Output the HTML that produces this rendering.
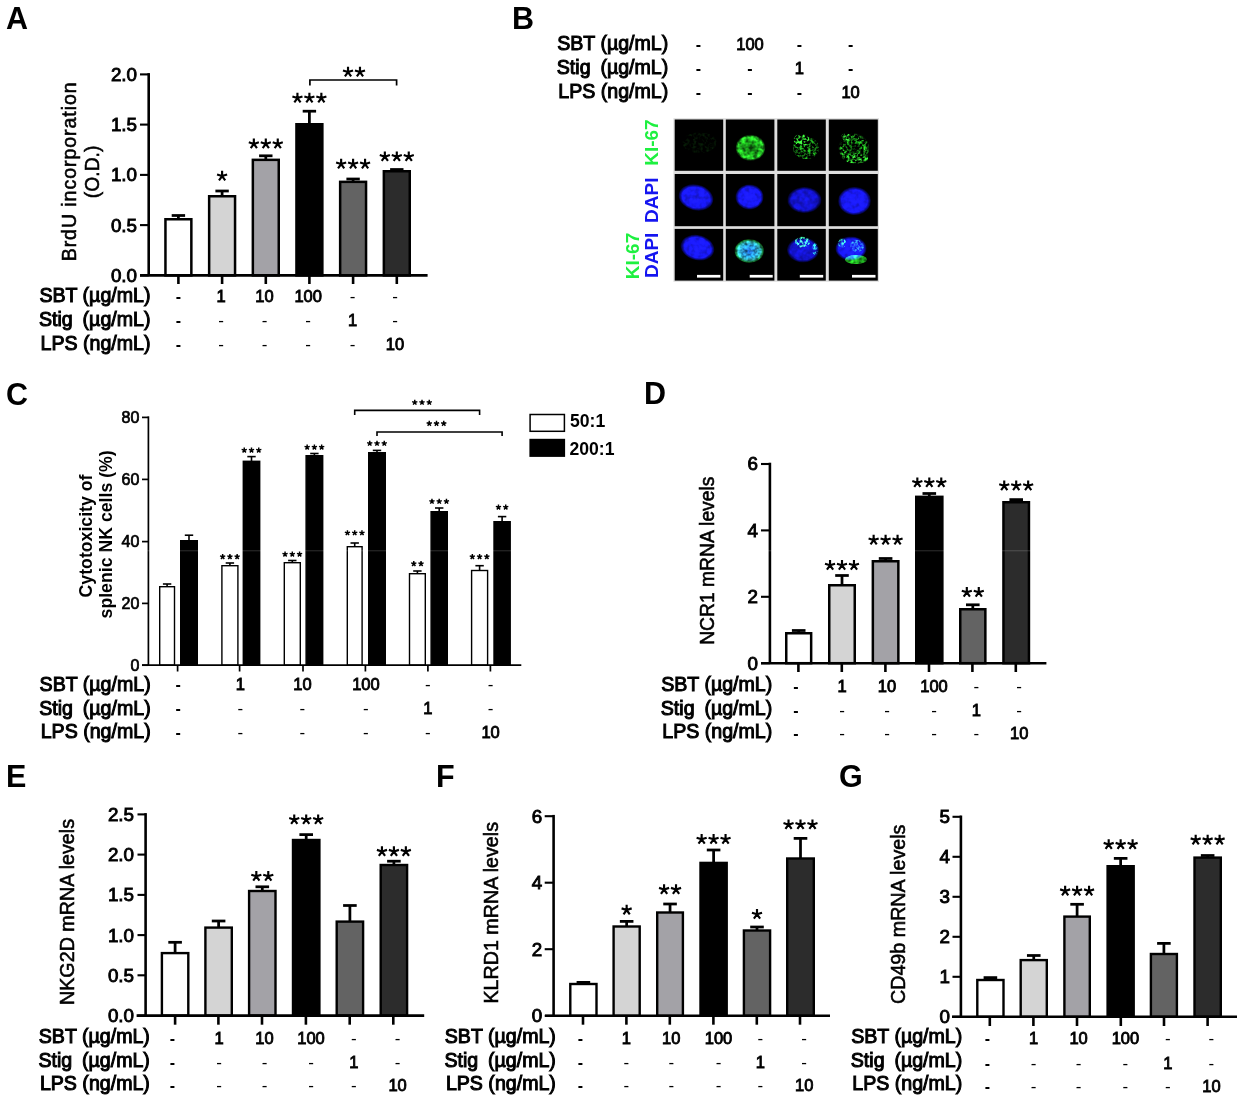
<!DOCTYPE html>
<html><head><meta charset="utf-8"><style>
html,body{margin:0;padding:0;background:#fff;}
svg{display:block;filter:blur(0.45px);font-family:"Liberation Sans", sans-serif;}
</style></head><body>
<svg width="1245" height="1103" viewBox="0 0 1245 1103">
<rect width="1245" height="1103" fill="#fff"/>
<text x="6" y="29" font-size="30.5" font-weight="bold" text-anchor="start" fill="#000">A</text>
<text x="512" y="29" font-size="30.5" font-weight="bold" text-anchor="start" fill="#000">B</text>
<text x="6" y="404.5" font-size="30.5" font-weight="bold" text-anchor="start" fill="#000">C</text>
<text x="644" y="403.5" font-size="30.5" font-weight="bold" text-anchor="start" fill="#000">D</text>
<text x="6" y="787" font-size="30.5" font-weight="bold" text-anchor="start" fill="#000">E</text>
<text x="436" y="787" font-size="30.5" font-weight="bold" text-anchor="start" fill="#000">F</text>
<text x="839" y="787" font-size="30.5" font-weight="bold" text-anchor="start" fill="#000">G</text>
<line x1="148.7" y1="73.1" x2="148.7" y2="275.4" stroke="#000" stroke-width="2.6" stroke-linecap="butt"/>
<line x1="140" y1="74.4" x2="148.7" y2="74.4" stroke="#000" stroke-width="2.1" stroke-linecap="butt"/>
<text x="137" y="80.89" font-size="18.8" stroke="#000" stroke-width="0.9" text-anchor="end" fill="#000">2.0</text>
<line x1="140" y1="124.6" x2="148.7" y2="124.6" stroke="#000" stroke-width="2.1" stroke-linecap="butt"/>
<text x="137" y="131.09" font-size="18.8" stroke="#000" stroke-width="0.9" text-anchor="end" fill="#000">1.5</text>
<line x1="140" y1="174.9" x2="148.7" y2="174.9" stroke="#000" stroke-width="2.1" stroke-linecap="butt"/>
<text x="137" y="181.39" font-size="18.8" stroke="#000" stroke-width="0.9" text-anchor="end" fill="#000">1.0</text>
<line x1="140" y1="225.1" x2="148.7" y2="225.1" stroke="#000" stroke-width="2.1" stroke-linecap="butt"/>
<text x="137" y="231.59" font-size="18.8" stroke="#000" stroke-width="0.9" text-anchor="end" fill="#000">0.5</text>
<line x1="140" y1="275.4" x2="148.7" y2="275.4" stroke="#000" stroke-width="2.1" stroke-linecap="butt"/>
<text x="137" y="281.89" font-size="18.8" stroke="#000" stroke-width="0.9" text-anchor="end" fill="#000">0.0</text>
<line x1="178.4" y1="219" x2="178.4" y2="215.5" stroke="#000" stroke-width="2.75" stroke-linecap="butt"/>
<line x1="171.7" y1="215.5" x2="185.1" y2="215.5" stroke="#000" stroke-width="2.75" stroke-linecap="butt"/>
<rect x="165.45" y="219.25" width="25.9" height="56.15" fill="#ffffff" stroke="#000" stroke-width="2.5"/>
<line x1="222.1" y1="196" x2="222.1" y2="191" stroke="#000" stroke-width="2.75" stroke-linecap="butt"/>
<line x1="215.4" y1="191" x2="228.8" y2="191" stroke="#000" stroke-width="2.75" stroke-linecap="butt"/>
<rect x="209.15" y="196.25" width="25.9" height="79.15" fill="#d4d4d4" stroke="#000" stroke-width="2.5"/>
<line x1="265.8" y1="159.6" x2="265.8" y2="155.8" stroke="#000" stroke-width="2.75" stroke-linecap="butt"/>
<line x1="259.1" y1="155.8" x2="272.5" y2="155.8" stroke="#000" stroke-width="2.75" stroke-linecap="butt"/>
<rect x="252.85" y="159.85" width="25.9" height="115.55" fill="#a3a2a7" stroke="#000" stroke-width="2.5"/>
<line x1="309.4" y1="124" x2="309.4" y2="111.2" stroke="#000" stroke-width="2.75" stroke-linecap="butt"/>
<line x1="302.7" y1="111.2" x2="316.1" y2="111.2" stroke="#000" stroke-width="2.75" stroke-linecap="butt"/>
<rect x="296.45" y="124.25" width="25.9" height="151.15" fill="#000000" stroke="#000" stroke-width="2.5"/>
<line x1="353.1" y1="181.6" x2="353.1" y2="179" stroke="#000" stroke-width="2.75" stroke-linecap="butt"/>
<line x1="346.4" y1="179" x2="359.8" y2="179" stroke="#000" stroke-width="2.75" stroke-linecap="butt"/>
<rect x="340.15" y="181.85" width="25.9" height="93.55" fill="#636363" stroke="#000" stroke-width="2.5"/>
<line x1="396.8" y1="171" x2="396.8" y2="169.5" stroke="#000" stroke-width="2.75" stroke-linecap="butt"/>
<line x1="390.1" y1="169.5" x2="403.5" y2="169.5" stroke="#000" stroke-width="2.75" stroke-linecap="butt"/>
<rect x="383.85" y="171.25" width="25.9" height="104.15" fill="#2c2c2c" stroke="#000" stroke-width="2.5"/>
<line x1="140" y1="275.4" x2="427.6" y2="275.4" stroke="#000" stroke-width="2.6" stroke-linecap="butt"/>
<line x1="178.4" y1="275.4" x2="178.4" y2="284" stroke="#000" stroke-width="2.6" stroke-linecap="butt"/>
<line x1="222.1" y1="275.4" x2="222.1" y2="284" stroke="#000" stroke-width="2.6" stroke-linecap="butt"/>
<line x1="265.8" y1="275.4" x2="265.8" y2="284" stroke="#000" stroke-width="2.6" stroke-linecap="butt"/>
<line x1="309.4" y1="275.4" x2="309.4" y2="284" stroke="#000" stroke-width="2.6" stroke-linecap="butt"/>
<line x1="353.1" y1="275.4" x2="353.1" y2="284" stroke="#000" stroke-width="2.6" stroke-linecap="butt"/>
<line x1="396.8" y1="275.4" x2="396.8" y2="284" stroke="#000" stroke-width="2.6" stroke-linecap="butt"/>
<path d="M222.1,176.1L222.1,170.8M222.1,176.1L227.14,174.47M222.1,176.1L225.22,180.39M222.1,176.1L218.98,180.39M222.1,176.1L217.06,174.47" stroke="#000" stroke-width="2.15" fill="none"/>
<path d="M253.84,143.9L253.84,138.6M253.84,143.9L258.88,142.27M253.84,143.9L256.96,148.19M253.84,143.9L250.73,148.19M253.84,143.9L248.8,142.27M265.8,143.9L265.8,138.6M265.8,143.9L270.84,142.27M265.8,143.9L268.92,148.19M265.8,143.9L262.68,148.19M265.8,143.9L260.76,142.27M277.76,143.9L277.76,138.6M277.76,143.9L282.8,142.27M277.76,143.9L280.87,148.19M277.76,143.9L274.64,148.19M277.76,143.9L272.72,142.27" stroke="#000" stroke-width="2.15" fill="none"/>
<path d="M297.44,98.1L297.44,92.8M297.44,98.1L302.48,96.47M297.44,98.1L300.56,102.39M297.44,98.1L294.33,102.39M297.44,98.1L292.4,96.47M309.4,98.1L309.4,92.8M309.4,98.1L314.44,96.47M309.4,98.1L312.52,102.39M309.4,98.1L306.28,102.39M309.4,98.1L304.36,96.47M321.36,98.1L321.36,92.8M321.36,98.1L326.4,96.47M321.36,98.1L324.47,102.39M321.36,98.1L318.24,102.39M321.36,98.1L316.32,96.47" stroke="#000" stroke-width="2.15" fill="none"/>
<path d="M341.14,164.1L341.14,158.8M341.14,164.1L346.18,162.47M341.14,164.1L344.26,168.39M341.14,164.1L338.03,168.39M341.14,164.1L336.1,162.47M353.1,164.1L353.1,158.8M353.1,164.1L358.14,162.47M353.1,164.1L356.22,168.39M353.1,164.1L349.98,168.39M353.1,164.1L348.06,162.47M365.06,164.1L365.06,158.8M365.06,164.1L370.1,162.47M365.06,164.1L368.17,168.39M365.06,164.1L361.94,168.39M365.06,164.1L360.02,162.47" stroke="#000" stroke-width="2.15" fill="none"/>
<path d="M384.84,156.7L384.84,151.4M384.84,156.7L389.88,155.07M384.84,156.7L387.96,160.99M384.84,156.7L381.73,160.99M384.84,156.7L379.8,155.07M396.8,156.7L396.8,151.4M396.8,156.7L401.84,155.07M396.8,156.7L399.92,160.99M396.8,156.7L393.68,160.99M396.8,156.7L391.76,155.07M408.76,156.7L408.76,151.4M408.76,156.7L413.8,155.07M408.76,156.7L411.87,160.99M408.76,156.7L405.64,160.99M408.76,156.7L403.72,155.07" stroke="#000" stroke-width="2.15" fill="none"/>
<path d="M309.9,85.5 V80 H396.6 V85.5" stroke="#000" stroke-width="1.7" fill="none"/>
<path d="M348.02,72.1L348.02,66.8M348.02,72.1L353.06,70.47M348.02,72.1L351.14,76.39M348.02,72.1L344.91,76.39M348.02,72.1L342.98,70.47M359.98,72.1L359.98,66.8M359.98,72.1L365.02,70.47M359.98,72.1L363.09,76.39M359.98,72.1L356.86,76.39M359.98,72.1L354.94,70.47" stroke="#000" stroke-width="2.15" fill="none"/>
<text transform="translate(76.3,171.4) rotate(-90)" font-size="19.6" stroke="#000" stroke-width="0.55" text-anchor="middle" fill="#000" letter-spacing="0.92">BrdU incorporation</text>
<text transform="translate(99.2,171.9) rotate(-90)" font-size="19.3" stroke="#000" stroke-width="0.55" text-anchor="middle" fill="#000">(O.D.)</text>
<text x="150.5" y="302.4" font-size="19.6" stroke="#000" stroke-width="1" text-anchor="end">SBT (µg/mL)</text>
<text x="178.4" y="301.8" font-size="16" font-weight="bold" text-anchor="middle" fill="#000">-</text>
<text x="221" y="301.8" font-size="16.5" stroke="#000" stroke-width="0.85" text-anchor="middle" fill="#000">1</text>
<text x="264.5" y="301.8" font-size="16.5" stroke="#000" stroke-width="0.85" text-anchor="middle" fill="#000">10</text>
<text x="308.2" y="301.8" font-size="16.5" stroke="#000" stroke-width="0.85" text-anchor="middle" fill="#000">100</text>
<text x="352.5" y="301.8" font-size="17" text-anchor="middle" fill="#000">-</text>
<text x="395" y="301.8" font-size="17" text-anchor="middle" fill="#000">-</text>
<text x="150.5" y="326.3" font-size="19.6" stroke="#000" stroke-width="1" text-anchor="end">Stig<tspan dx="4.4"> (µg/mL)</tspan></text>
<text x="178.4" y="325.5" font-size="16" font-weight="bold" text-anchor="middle" fill="#000">-</text>
<text x="221" y="325.5" font-size="17" text-anchor="middle" fill="#000">-</text>
<text x="264.5" y="325.5" font-size="17" text-anchor="middle" fill="#000">-</text>
<text x="308.2" y="325.5" font-size="17" text-anchor="middle" fill="#000">-</text>
<text x="352.5" y="325.5" font-size="16.5" stroke="#000" stroke-width="0.85" text-anchor="middle" fill="#000">1</text>
<text x="395" y="325.5" font-size="17" text-anchor="middle" fill="#000">-</text>
<text x="150.5" y="349.5" font-size="19.6" stroke="#000" stroke-width="1" text-anchor="end">LPS (ng/mL)</text>
<text x="178.4" y="349.6" font-size="16" font-weight="bold" text-anchor="middle" fill="#000">-</text>
<text x="221" y="349.6" font-size="17" text-anchor="middle" fill="#000">-</text>
<text x="264.5" y="349.6" font-size="17" text-anchor="middle" fill="#000">-</text>
<text x="308.2" y="349.6" font-size="17" text-anchor="middle" fill="#000">-</text>
<text x="352.5" y="349.6" font-size="17" text-anchor="middle" fill="#000">-</text>
<text x="395" y="349.6" font-size="16.5" stroke="#000" stroke-width="0.85" text-anchor="middle" fill="#000">10</text>
<text x="668.3" y="49.6" font-size="19.6" stroke="#000" stroke-width="1" text-anchor="end">SBT (µg/mL)</text>
<text x="698.3" y="49.7" font-size="16" font-weight="bold" text-anchor="middle" fill="#000">-</text>
<text x="750" y="49.7" font-size="16.5" stroke="#000" stroke-width="0.85" text-anchor="middle" fill="#000">100</text>
<text x="799.3" y="49.7" font-size="16" font-weight="bold" text-anchor="middle" fill="#000">-</text>
<text x="850.6" y="49.7" font-size="16" font-weight="bold" text-anchor="middle" fill="#000">-</text>
<text x="668.3" y="74.4" font-size="19.6" stroke="#000" stroke-width="1" text-anchor="end">Stig<tspan dx="4.4"> (µg/mL)</tspan></text>
<text x="698.3" y="73.6" font-size="16" font-weight="bold" text-anchor="middle" fill="#000">-</text>
<text x="750" y="73.6" font-size="16" font-weight="bold" text-anchor="middle" fill="#000">-</text>
<text x="799.3" y="73.6" font-size="16.5" stroke="#000" stroke-width="0.85" text-anchor="middle" fill="#000">1</text>
<text x="850.6" y="73.6" font-size="16" font-weight="bold" text-anchor="middle" fill="#000">-</text>
<text x="668.3" y="97.8" font-size="19.6" stroke="#000" stroke-width="1" text-anchor="end">LPS (ng/mL)</text>
<text x="698.3" y="98.3" font-size="16" font-weight="bold" text-anchor="middle" fill="#000">-</text>
<text x="750" y="98.3" font-size="16" font-weight="bold" text-anchor="middle" fill="#000">-</text>
<text x="799.3" y="98.3" font-size="16" font-weight="bold" text-anchor="middle" fill="#000">-</text>
<text x="850.6" y="98.3" font-size="16.5" stroke="#000" stroke-width="0.85" text-anchor="middle" fill="#000">10</text>
<rect x="673.4" y="118.2" width="205.6" height="163.6" fill="#dedede"/>
<rect x="674.7" y="119.5" width="48.5" height="51.3" fill="#000"/>
<rect x="674.7" y="174" width="48.5" height="52.2" fill="#000"/>
<rect x="674.7" y="228.9" width="48.5" height="51.7" fill="#000"/>
<rect x="725.8" y="119.5" width="48.6" height="51.3" fill="#000"/>
<rect x="725.8" y="174" width="48.6" height="52.2" fill="#000"/>
<rect x="725.8" y="228.9" width="48.6" height="51.7" fill="#000"/>
<rect x="777.3" y="119.5" width="48.5" height="51.3" fill="#000"/>
<rect x="777.3" y="174" width="48.5" height="52.2" fill="#000"/>
<rect x="777.3" y="228.9" width="48.5" height="51.7" fill="#000"/>
<rect x="828.8" y="119.5" width="49" height="51.3" fill="#000"/>
<rect x="828.8" y="174" width="49" height="52.2" fill="#000"/>
<rect x="828.8" y="228.9" width="49" height="51.7" fill="#000"/>

<defs>
<filter id="tx1" x="-20%" y="-20%" width="140%" height="140%" color-interpolation-filters="sRGB">
<feTurbulence type="fractalNoise" baseFrequency="0.24" numOctaves="2" seed="4" result="n"/>
<feColorMatrix in="n" type="matrix" values="0 1.8 0 0 -0.45  0 1.8 0 0 -0.45  0 1.8 0 0 -0.45  0 0 0 0 1" result="gg"/>
<feComposite in="SourceGraphic" in2="gg" operator="arithmetic" k1="1.0" k2="0.45" k3="0" k4="0" result="c"/>
<feGaussianBlur in="c" stdDeviation="0.45"/>
</filter>
<filter id="tx2" x="-20%" y="-20%" width="140%" height="140%" color-interpolation-filters="sRGB">
<feTurbulence type="fractalNoise" baseFrequency="0.36" numOctaves="2" seed="11" result="n"/>
<feColorMatrix in="n" type="matrix" values="0 3 0 0 -1.2  0 3 0 0 -1.2  0 3 0 0 -1.2  0 0 0 0 1" result="gg"/>
<feComposite in="SourceGraphic" in2="gg" operator="arithmetic" k1="1.3" k2="0.0" k3="0" k4="0" result="c"/>
<feGaussianBlur in="c" stdDeviation="0.45"/>
</filter>
<filter id="tx3" x="-20%" y="-20%" width="140%" height="140%" color-interpolation-filters="sRGB">
<feTurbulence type="fractalNoise" baseFrequency="0.2" numOctaves="2" seed="7" result="n"/>
<feColorMatrix in="n" type="matrix" values="0 0.7 0 0 0.5  0 0.7 0 0 0.5  0 0.7 0 0 0.5  0 0 0 0 1" result="gg"/>
<feComposite in="SourceGraphic" in2="gg" operator="arithmetic" k1="1.0" k2="0.15" k3="0" k4="0" result="c"/>
<feGaussianBlur in="c" stdDeviation="0.6"/>
</filter>
<filter id="tx4" x="-20%" y="-20%" width="140%" height="140%" color-interpolation-filters="sRGB">
<feTurbulence type="fractalNoise" baseFrequency="0.3" numOctaves="2" seed="21" result="n"/>
<feColorMatrix in="n" type="matrix" values="0 2.6 0 0 -1.15  0 2.6 0 0 -1.15  0 2.6 0 0 -1.15  0 0 0 0 1" result="gg"/>
<feComposite in="SourceGraphic" in2="gg" operator="arithmetic" k1="1.0" k2="0" k3="0" k4="0" result="c"/>
<feGaussianBlur in="c" stdDeviation="0.3"/>
</filter>
<radialGradient id="gring"><stop offset="0" stop-color="#148014"/><stop offset="0.5" stop-color="#1ca81c"/><stop offset="0.85" stop-color="#2ee82e"/><stop offset="1" stop-color="#20a020" stop-opacity="0.3"/></radialGradient>
<radialGradient id="gring2"><stop offset="0" stop-color="#0a4a0a"/><stop offset="0.45" stop-color="#168a16"/><stop offset="0.8" stop-color="#2ad02a"/><stop offset="1" stop-color="#20a020" stop-opacity="0.3"/></radialGradient>
<radialGradient id="gb"><stop offset="0" stop-color="#1c1cff"/><stop offset="0.8" stop-color="#1818f8"/><stop offset="1" stop-color="#0c0cc0" stop-opacity="0.25"/></radialGradient>
<radialGradient id="gbd"><stop offset="0" stop-color="#1616dc"/><stop offset="0.8" stop-color="#1212cc"/><stop offset="1" stop-color="#0808a0" stop-opacity="0.2"/></radialGradient>
<radialGradient id="gc"><stop offset="0" stop-color="#2070f4"/><stop offset="0.5" stop-color="#28a8f4"/><stop offset="0.8" stop-color="#38d0d0"/><stop offset="1" stop-color="#20c030" stop-opacity="0.5"/></radialGradient>
</defs>
<g filter="url(#tx4)" opacity="0.3"><ellipse cx="699.6" cy="142.7" rx="17" ry="10.5" fill="#1a6a1a"/></g>
<g filter="url(#tx1)"><ellipse cx="750.5" cy="147.7" rx="14.7" ry="13" fill="url(#gring)"/></g>
<g filter="url(#tx2)">
<ellipse cx="806" cy="148" rx="13" ry="11" fill="#1c9c1c"/>
<ellipse cx="801.5" cy="140" rx="8" ry="6" fill="#38f038"/>
</g>
<g filter="url(#tx2)">
<ellipse cx="854" cy="148.6" rx="15.5" ry="15" fill="url(#gring2)"/>
<ellipse cx="856" cy="158.5" rx="12" ry="5" fill="#34e034"/>
<ellipse cx="846" cy="137" rx="5" ry="3.5" fill="#34e034"/>
</g>
<g filter="url(#tx3)">
<ellipse cx="696" cy="197.5" rx="17.5" ry="12.8" fill="url(#gb)" transform="rotate(14 696 197.5)"/>
<ellipse cx="749.5" cy="197" rx="14" ry="12.5" fill="url(#gb)"/>
<ellipse cx="854.5" cy="201" rx="16.3" ry="14" fill="url(#gb)"/>
<ellipse cx="697.5" cy="247.7" rx="17" ry="12.5" fill="url(#gb)" transform="rotate(14 697.5 247.7)"/>
<ellipse cx="804.4" cy="200" rx="17" ry="13" fill="url(#gbd)"/>
</g>
<g filter="url(#tx1)">
<ellipse cx="749.3" cy="251" rx="14.6" ry="11.7" fill="url(#gc)"/>
</g>
<g filter="url(#tx3)">
<ellipse cx="803" cy="250" rx="16" ry="12.5" fill="url(#gbd)"/>
<ellipse cx="851" cy="248.5" rx="15.5" ry="12" fill="url(#gb)"/>
</g>
<g filter="url(#tx1)" style="mix-blend-mode:screen">
<ellipse cx="856" cy="259.5" rx="11" ry="4.6" fill="#24c024"/>
</g>
<g filter="url(#tx2)" style="mix-blend-mode:screen">
<ellipse cx="802.5" cy="242" rx="7.5" ry="5.5" fill="#40ffa0"/>
<ellipse cx="842" cy="243" rx="4" ry="4.5" fill="#30e0c0"/>
<ellipse cx="815" cy="249" rx="3" ry="6" fill="#20c0c0"/>
<ellipse cx="857" cy="246" rx="7" ry="6" fill="#2090d0"/>
<ellipse cx="750" cy="251" rx="11" ry="9" fill="#103030"/>
</g>

<rect x="697" y="274.9" width="23.4" height="2.7" fill="#fff"/>
<rect x="749.7" y="274.9" width="23" height="2.7" fill="#fff"/>
<rect x="799.8" y="274.9" width="23.4" height="2.7" fill="#fff"/>
<rect x="852" y="274.9" width="23.5" height="2.7" fill="#fff"/>
<text transform="translate(658.2,142.6) rotate(-90)" font-size="19" font-weight="bold" text-anchor="middle" fill="#1ef040">KI-67</text>
<text transform="translate(658.2,200.2) rotate(-90)" font-size="19" font-weight="bold" text-anchor="middle" fill="#1515f0">DAPI</text>
<text transform="translate(639.4,256) rotate(-90)" font-size="19" font-weight="bold" text-anchor="middle" fill="#1ef040">KI-67</text>
<text transform="translate(658.2,255.3) rotate(-90)" font-size="19" font-weight="bold" text-anchor="middle" fill="#1515f0">DAPI</text>
<line x1="148.4" y1="416.35" x2="148.4" y2="665.2" stroke="#000" stroke-width="1.7" stroke-linecap="butt"/>
<line x1="142" y1="417.4" x2="148.4" y2="417.4" stroke="#000" stroke-width="1.7" stroke-linecap="butt"/>
<text x="139.4" y="422.92" font-size="16" stroke="#000" stroke-width="0.7" text-anchor="end" fill="#000">80</text>
<line x1="142" y1="479.4" x2="148.4" y2="479.4" stroke="#000" stroke-width="1.7" stroke-linecap="butt"/>
<text x="139.4" y="484.92" font-size="16" stroke="#000" stroke-width="0.7" text-anchor="end" fill="#000">60</text>
<line x1="142" y1="541.6" x2="148.4" y2="541.6" stroke="#000" stroke-width="1.7" stroke-linecap="butt"/>
<text x="139.4" y="547.12" font-size="16" stroke="#000" stroke-width="0.7" text-anchor="end" fill="#000">40</text>
<line x1="142" y1="603.4" x2="148.4" y2="603.4" stroke="#000" stroke-width="1.7" stroke-linecap="butt"/>
<text x="139.4" y="608.92" font-size="16" stroke="#000" stroke-width="0.7" text-anchor="end" fill="#000">20</text>
<line x1="142" y1="665.2" x2="148.4" y2="665.2" stroke="#000" stroke-width="1.7" stroke-linecap="butt"/>
<text x="139.4" y="670.72" font-size="16" stroke="#000" stroke-width="0.7" text-anchor="end" fill="#000">0</text>
<line x1="167.1" y1="587" x2="167.1" y2="584" stroke="#000" stroke-width="1.6" stroke-linecap="butt"/>
<line x1="162.9" y1="584" x2="171.3" y2="584" stroke="#000" stroke-width="1.6" stroke-linecap="butt"/>
<rect x="159.7" y="586.7" width="14.8" height="78.5" fill="#fff" stroke="#000" stroke-width="1.4"/>
<line x1="229.9" y1="566" x2="229.9" y2="563" stroke="#000" stroke-width="1.6" stroke-linecap="butt"/>
<line x1="225.7" y1="563" x2="234.1" y2="563" stroke="#000" stroke-width="1.6" stroke-linecap="butt"/>
<rect x="221.9" y="565.7" width="16" height="99.5" fill="#fff" stroke="#000" stroke-width="1.4"/>
<line x1="292.3" y1="563" x2="292.3" y2="560.5" stroke="#000" stroke-width="1.6" stroke-linecap="butt"/>
<line x1="288.1" y1="560.5" x2="296.5" y2="560.5" stroke="#000" stroke-width="1.6" stroke-linecap="butt"/>
<rect x="284.3" y="562.7" width="16" height="102.5" fill="#fff" stroke="#000" stroke-width="1.4"/>
<line x1="354.7" y1="547" x2="354.7" y2="543" stroke="#000" stroke-width="1.6" stroke-linecap="butt"/>
<line x1="350.5" y1="543" x2="358.9" y2="543" stroke="#000" stroke-width="1.6" stroke-linecap="butt"/>
<rect x="347.3" y="546.7" width="14.8" height="118.5" fill="#fff" stroke="#000" stroke-width="1.4"/>
<line x1="417.4" y1="574" x2="417.4" y2="571" stroke="#000" stroke-width="1.6" stroke-linecap="butt"/>
<line x1="413.2" y1="571" x2="421.6" y2="571" stroke="#000" stroke-width="1.6" stroke-linecap="butt"/>
<rect x="409.5" y="573.7" width="15.8" height="91.5" fill="#fff" stroke="#000" stroke-width="1.4"/>
<line x1="479.6" y1="570.8" x2="479.6" y2="565.7" stroke="#000" stroke-width="1.6" stroke-linecap="butt"/>
<line x1="475.4" y1="565.7" x2="483.8" y2="565.7" stroke="#000" stroke-width="1.6" stroke-linecap="butt"/>
<rect x="471.6" y="570.5" width="16" height="94.7" fill="#fff" stroke="#000" stroke-width="1.4"/>
<line x1="189" y1="541" x2="189" y2="535.2" stroke="#000" stroke-width="1.6" stroke-linecap="butt"/>
<line x1="184.8" y1="535.2" x2="193.2" y2="535.2" stroke="#000" stroke-width="1.6" stroke-linecap="butt"/>
<rect x="180.7" y="540.7" width="16.6" height="124.5" fill="#000" stroke="#000" stroke-width="1.4"/>
<line x1="251.5" y1="461.6" x2="251.5" y2="456.6" stroke="#000" stroke-width="1.6" stroke-linecap="butt"/>
<line x1="247.3" y1="456.6" x2="255.7" y2="456.6" stroke="#000" stroke-width="1.6" stroke-linecap="butt"/>
<rect x="243.3" y="461.3" width="16.4" height="203.9" fill="#000" stroke="#000" stroke-width="1.4"/>
<line x1="314.4" y1="456" x2="314.4" y2="453.5" stroke="#000" stroke-width="1.6" stroke-linecap="butt"/>
<line x1="310.2" y1="453.5" x2="318.6" y2="453.5" stroke="#000" stroke-width="1.6" stroke-linecap="butt"/>
<rect x="306.1" y="455.7" width="16.6" height="209.5" fill="#000" stroke="#000" stroke-width="1.4"/>
<line x1="377" y1="453" x2="377" y2="450.4" stroke="#000" stroke-width="1.6" stroke-linecap="butt"/>
<line x1="372.8" y1="450.4" x2="381.2" y2="450.4" stroke="#000" stroke-width="1.6" stroke-linecap="butt"/>
<rect x="368.7" y="452.7" width="16.6" height="212.5" fill="#000" stroke="#000" stroke-width="1.4"/>
<line x1="439.2" y1="512" x2="439.2" y2="508" stroke="#000" stroke-width="1.6" stroke-linecap="butt"/>
<line x1="435" y1="508" x2="443.4" y2="508" stroke="#000" stroke-width="1.6" stroke-linecap="butt"/>
<rect x="431.1" y="511.7" width="16.2" height="153.5" fill="#000" stroke="#000" stroke-width="1.4"/>
<line x1="502.1" y1="522" x2="502.1" y2="516.6" stroke="#000" stroke-width="1.6" stroke-linecap="butt"/>
<line x1="497.9" y1="516.6" x2="506.3" y2="516.6" stroke="#000" stroke-width="1.6" stroke-linecap="butt"/>
<rect x="494" y="521.7" width="16.2" height="143.5" fill="#000" stroke="#000" stroke-width="1.4"/>
<line x1="142" y1="665.2" x2="521.3" y2="665.2" stroke="#000" stroke-width="1.7" stroke-linecap="butt"/>
<line x1="177.6" y1="665.2" x2="177.6" y2="671.5" stroke="#000" stroke-width="1.7" stroke-linecap="butt"/>
<line x1="239.6" y1="665.2" x2="239.6" y2="671.5" stroke="#000" stroke-width="1.7" stroke-linecap="butt"/>
<line x1="303" y1="665.2" x2="303" y2="671.5" stroke="#000" stroke-width="1.7" stroke-linecap="butt"/>
<line x1="365.4" y1="665.2" x2="365.4" y2="671.5" stroke="#000" stroke-width="1.7" stroke-linecap="butt"/>
<line x1="427.9" y1="665.2" x2="427.9" y2="671.5" stroke="#000" stroke-width="1.7" stroke-linecap="butt"/>
<line x1="490.4" y1="665.2" x2="490.4" y2="671.5" stroke="#000" stroke-width="1.7" stroke-linecap="butt"/>
<path d="M222.65,556.76L222.65,554.01M222.65,556.76L225.26,555.91M222.65,556.76L224.26,558.99M222.65,556.76L221.03,558.99M222.65,556.76L220.03,555.91M229.9,556.76L229.9,554.01M229.9,556.76L232.52,555.91M229.9,556.76L231.52,558.99M229.9,556.76L228.28,558.99M229.9,556.76L227.28,555.91M237.15,556.76L237.15,554.01M237.15,556.76L239.77,555.91M237.15,556.76L238.77,558.99M237.15,556.76L235.54,558.99M237.15,556.76L234.54,555.91" stroke="#000" stroke-width="1.45" fill="none"/>
<path d="M285.05,554.26L285.05,551.51M285.05,554.26L287.66,553.41M285.05,554.26L286.66,556.49M285.05,554.26L283.43,556.49M285.05,554.26L282.43,553.41M292.3,554.26L292.3,551.51M292.3,554.26L294.92,553.41M292.3,554.26L293.92,556.49M292.3,554.26L290.68,556.49M292.3,554.26L289.68,553.41M299.55,554.26L299.55,551.51M299.55,554.26L302.17,553.41M299.55,554.26L301.17,556.49M299.55,554.26L297.94,556.49M299.55,554.26L296.94,553.41" stroke="#000" stroke-width="1.45" fill="none"/>
<path d="M347.45,532.96L347.45,530.21M347.45,532.96L350.06,532.11M347.45,532.96L349.06,535.19M347.45,532.96L345.83,535.19M347.45,532.96L344.83,532.11M354.7,532.96L354.7,530.21M354.7,532.96L357.32,532.11M354.7,532.96L356.32,535.19M354.7,532.96L353.08,535.19M354.7,532.96L352.08,532.11M361.95,532.96L361.95,530.21M361.95,532.96L364.57,532.11M361.95,532.96L363.57,535.19M361.95,532.96L360.34,535.19M361.95,532.96L359.34,532.11" stroke="#000" stroke-width="1.45" fill="none"/>
<path d="M413.77,563.76L413.77,561.01M413.77,563.76L416.39,562.91M413.77,563.76L415.39,565.99M413.77,563.76L412.16,565.99M413.77,563.76L411.16,562.91M421.03,563.76L421.03,561.01M421.03,563.76L423.64,562.91M421.03,563.76L422.64,565.99M421.03,563.76L419.41,565.99M421.03,563.76L418.41,562.91" stroke="#000" stroke-width="1.45" fill="none"/>
<path d="M472.35,556.76L472.35,554.01M472.35,556.76L474.96,555.91M472.35,556.76L473.96,558.99M472.35,556.76L470.73,558.99M472.35,556.76L469.73,555.91M479.6,556.76L479.6,554.01M479.6,556.76L482.22,555.91M479.6,556.76L481.22,558.99M479.6,556.76L477.98,558.99M479.6,556.76L476.98,555.91M486.85,556.76L486.85,554.01M486.85,556.76L489.47,555.91M486.85,556.76L488.47,558.99M486.85,556.76L485.24,558.99M486.85,556.76L484.24,555.91" stroke="#000" stroke-width="1.45" fill="none"/>
<path d="M244.25,450.26L244.25,447.51M244.25,450.26L246.86,449.41M244.25,450.26L245.86,452.49M244.25,450.26L242.63,452.49M244.25,450.26L241.63,449.41M251.5,450.26L251.5,447.51M251.5,450.26L254.12,449.41M251.5,450.26L253.12,452.49M251.5,450.26L249.88,452.49M251.5,450.26L248.88,449.41M258.75,450.26L258.75,447.51M258.75,450.26L261.37,449.41M258.75,450.26L260.37,452.49M258.75,450.26L257.14,452.49M258.75,450.26L256.14,449.41" stroke="#000" stroke-width="1.45" fill="none"/>
<path d="M307.15,447.26L307.15,444.51M307.15,447.26L309.76,446.41M307.15,447.26L308.76,449.49M307.15,447.26L305.53,449.49M307.15,447.26L304.53,446.41M314.4,447.26L314.4,444.51M314.4,447.26L317.02,446.41M314.4,447.26L316.02,449.49M314.4,447.26L312.78,449.49M314.4,447.26L311.78,446.41M321.65,447.26L321.65,444.51M321.65,447.26L324.27,446.41M321.65,447.26L323.27,449.49M321.65,447.26L320.04,449.49M321.65,447.26L319.04,446.41" stroke="#000" stroke-width="1.45" fill="none"/>
<path d="M369.75,443.46L369.75,440.71M369.75,443.46L372.36,442.61M369.75,443.46L371.36,445.69M369.75,443.46L368.13,445.69M369.75,443.46L367.13,442.61M377,443.46L377,440.71M377,443.46L379.62,442.61M377,443.46L378.62,445.69M377,443.46L375.38,445.69M377,443.46L374.38,442.61M384.25,443.46L384.25,440.71M384.25,443.46L386.87,442.61M384.25,443.46L385.87,445.69M384.25,443.46L382.64,445.69M384.25,443.46L381.64,442.61" stroke="#000" stroke-width="1.45" fill="none"/>
<path d="M431.95,501.46L431.95,498.71M431.95,501.46L434.56,500.61M431.95,501.46L433.56,503.69M431.95,501.46L430.33,503.69M431.95,501.46L429.33,500.61M439.2,501.46L439.2,498.71M439.2,501.46L441.82,500.61M439.2,501.46L440.82,503.69M439.2,501.46L437.58,503.69M439.2,501.46L436.58,500.61M446.45,501.46L446.45,498.71M446.45,501.46L449.07,500.61M446.45,501.46L448.07,503.69M446.45,501.46L444.84,503.69M446.45,501.46L443.84,500.61" stroke="#000" stroke-width="1.45" fill="none"/>
<path d="M498.47,507.26L498.47,504.51M498.47,507.26L501.09,506.41M498.47,507.26L500.09,509.49M498.47,507.26L496.86,509.49M498.47,507.26L495.86,506.41M505.73,507.26L505.73,504.51M505.73,507.26L508.34,506.41M505.73,507.26L507.34,509.49M505.73,507.26L504.11,509.49M505.73,507.26L503.11,506.41" stroke="#000" stroke-width="1.45" fill="none"/>
<path d="M354.7,415 V410.4 H479.6 V415" stroke="#000" stroke-width="1.6" fill="none"/>
<path d="M414.75,402.46L414.75,399.71M414.75,402.46L417.36,401.61M414.75,402.46L416.36,404.69M414.75,402.46L413.13,404.69M414.75,402.46L412.13,401.61M422,402.46L422,399.71M422,402.46L424.62,401.61M422,402.46L423.62,404.69M422,402.46L420.38,404.69M422,402.46L419.38,401.61M429.25,402.46L429.25,399.71M429.25,402.46L431.87,401.61M429.25,402.46L430.87,404.69M429.25,402.46L427.64,404.69M429.25,402.46L426.64,401.61" stroke="#000" stroke-width="1.45" fill="none"/>
<path d="M377,436 V432 H502.1 V436" stroke="#000" stroke-width="1.6" fill="none"/>
<path d="M429.25,423.56L429.25,420.81M429.25,423.56L431.86,422.71M429.25,423.56L430.86,425.79M429.25,423.56L427.63,425.79M429.25,423.56L426.63,422.71M436.5,423.56L436.5,420.81M436.5,423.56L439.12,422.71M436.5,423.56L438.12,425.79M436.5,423.56L434.88,425.79M436.5,423.56L433.88,422.71M443.75,423.56L443.75,420.81M443.75,423.56L446.37,422.71M443.75,423.56L445.37,425.79M443.75,423.56L442.14,425.79M443.75,423.56L441.14,422.71" stroke="#000" stroke-width="1.45" fill="none"/>
<rect x="530.1" y="414.5" width="34.3" height="16.8" fill="#fff" stroke="#000" stroke-width="1.5"/>
<rect x="529.4" y="438.8" width="35.7" height="18.1" fill="#000"/>
<text x="570" y="426.7" font-size="17.6" font-weight="bold" text-anchor="start" fill="#000">50:1</text>
<text x="569.5" y="454.6" font-size="17.6" font-weight="bold" text-anchor="start" fill="#000">200:1</text>
<text transform="translate(91.6,536) rotate(-90)" font-size="17.7" font-weight="bold" text-anchor="middle" fill="#000">Cytotoxicity of</text>
<text transform="translate(112.2,534.4) rotate(-90)" font-size="17.7" font-weight="bold" text-anchor="middle" fill="#000">splenic NK cells (%)</text>
<text x="150.7" y="691" font-size="19.6" stroke="#000" stroke-width="1" text-anchor="end">SBT (µg/mL)</text>
<text x="178.2" y="690.2" font-size="16" font-weight="bold" text-anchor="middle" fill="#000">-</text>
<text x="240.3" y="690.2" font-size="16.5" stroke="#000" stroke-width="0.85" text-anchor="middle" fill="#000">1</text>
<text x="302.4" y="690.2" font-size="16.5" stroke="#000" stroke-width="0.85" text-anchor="middle" fill="#000">10</text>
<text x="365.9" y="690.2" font-size="16.5" stroke="#000" stroke-width="0.85" text-anchor="middle" fill="#000">100</text>
<text x="427.8" y="690.2" font-size="17" text-anchor="middle" fill="#000">-</text>
<text x="490.6" y="690.2" font-size="17" text-anchor="middle" fill="#000">-</text>
<text x="150.7" y="715" font-size="19.6" stroke="#000" stroke-width="1" text-anchor="end">Stig<tspan dx="4.4"> (µg/mL)</tspan></text>
<text x="178.2" y="713.8" font-size="16" font-weight="bold" text-anchor="middle" fill="#000">-</text>
<text x="240.3" y="713.8" font-size="17" text-anchor="middle" fill="#000">-</text>
<text x="302.4" y="713.8" font-size="17" text-anchor="middle" fill="#000">-</text>
<text x="365.9" y="713.8" font-size="17" text-anchor="middle" fill="#000">-</text>
<text x="427.8" y="713.8" font-size="16.5" stroke="#000" stroke-width="0.85" text-anchor="middle" fill="#000">1</text>
<text x="490.6" y="713.8" font-size="17" text-anchor="middle" fill="#000">-</text>
<text x="150.7" y="738.4" font-size="19.6" stroke="#000" stroke-width="1" text-anchor="end">LPS (ng/mL)</text>
<text x="178.2" y="738" font-size="16" font-weight="bold" text-anchor="middle" fill="#000">-</text>
<text x="240.3" y="738" font-size="17" text-anchor="middle" fill="#000">-</text>
<text x="302.4" y="738" font-size="17" text-anchor="middle" fill="#000">-</text>
<text x="365.9" y="738" font-size="17" text-anchor="middle" fill="#000">-</text>
<text x="427.8" y="738" font-size="17" text-anchor="middle" fill="#000">-</text>
<text x="490.6" y="738" font-size="16.5" stroke="#000" stroke-width="0.85" text-anchor="middle" fill="#000">10</text>
<line x1="769.9" y1="462.7" x2="769.9" y2="663.2" stroke="#000" stroke-width="2.6" stroke-linecap="butt"/>
<line x1="761" y1="464" x2="769.9" y2="464" stroke="#000" stroke-width="2.1" stroke-linecap="butt"/>
<text x="758" y="470.49" font-size="18.8" stroke="#000" stroke-width="0.9" text-anchor="end" fill="#000">6</text>
<line x1="761" y1="530.4" x2="769.9" y2="530.4" stroke="#000" stroke-width="2.1" stroke-linecap="butt"/>
<text x="758" y="536.89" font-size="18.8" stroke="#000" stroke-width="0.9" text-anchor="end" fill="#000">4</text>
<line x1="761" y1="596.8" x2="769.9" y2="596.8" stroke="#000" stroke-width="2.1" stroke-linecap="butt"/>
<text x="758" y="603.29" font-size="18.8" stroke="#000" stroke-width="0.9" text-anchor="end" fill="#000">2</text>
<line x1="761" y1="663.2" x2="769.9" y2="663.2" stroke="#000" stroke-width="2.1" stroke-linecap="butt"/>
<text x="758" y="669.69" font-size="18.8" stroke="#000" stroke-width="0.9" text-anchor="end" fill="#000">0</text>
<line x1="798.7" y1="633" x2="798.7" y2="630.5" stroke="#000" stroke-width="2.75" stroke-linecap="butt"/>
<line x1="791.9" y1="630.5" x2="805.5" y2="630.5" stroke="#000" stroke-width="2.75" stroke-linecap="butt"/>
<rect x="786.25" y="633.25" width="24.9" height="29.95" fill="#ffffff" stroke="#000" stroke-width="2.5"/>
<line x1="842" y1="585" x2="842" y2="575.5" stroke="#000" stroke-width="2.75" stroke-linecap="butt"/>
<line x1="835.2" y1="575.5" x2="848.8" y2="575.5" stroke="#000" stroke-width="2.75" stroke-linecap="butt"/>
<rect x="829.25" y="585.25" width="25.5" height="77.95" fill="#d4d4d4" stroke="#000" stroke-width="2.5"/>
<line x1="885.6" y1="561" x2="885.6" y2="558.5" stroke="#000" stroke-width="2.75" stroke-linecap="butt"/>
<line x1="878.8" y1="558.5" x2="892.4" y2="558.5" stroke="#000" stroke-width="2.75" stroke-linecap="butt"/>
<rect x="872.85" y="561.25" width="25.5" height="101.95" fill="#a3a2a7" stroke="#000" stroke-width="2.5"/>
<line x1="929.3" y1="496.6" x2="929.3" y2="493.5" stroke="#000" stroke-width="2.75" stroke-linecap="butt"/>
<line x1="922.5" y1="493.5" x2="936.1" y2="493.5" stroke="#000" stroke-width="2.75" stroke-linecap="butt"/>
<rect x="916.25" y="496.85" width="26.1" height="166.35" fill="#000000" stroke="#000" stroke-width="2.5"/>
<line x1="972.8" y1="609" x2="972.8" y2="604.8" stroke="#000" stroke-width="2.75" stroke-linecap="butt"/>
<line x1="966" y1="604.8" x2="979.6" y2="604.8" stroke="#000" stroke-width="2.75" stroke-linecap="butt"/>
<rect x="960.25" y="609.25" width="25.1" height="53.95" fill="#636363" stroke="#000" stroke-width="2.5"/>
<line x1="1016.2" y1="502" x2="1016.2" y2="499.6" stroke="#000" stroke-width="2.75" stroke-linecap="butt"/>
<line x1="1009.4" y1="499.6" x2="1023" y2="499.6" stroke="#000" stroke-width="2.75" stroke-linecap="butt"/>
<rect x="1003.45" y="502.25" width="25.5" height="160.95" fill="#2c2c2c" stroke="#000" stroke-width="2.5"/>
<line x1="761" y1="663.2" x2="1046.4" y2="663.2" stroke="#000" stroke-width="2.6" stroke-linecap="butt"/>
<line x1="798.4" y1="663.2" x2="798.4" y2="672" stroke="#000" stroke-width="2.6" stroke-linecap="butt"/>
<line x1="841.8" y1="663.2" x2="841.8" y2="672" stroke="#000" stroke-width="2.6" stroke-linecap="butt"/>
<line x1="885.4" y1="663.2" x2="885.4" y2="672" stroke="#000" stroke-width="2.6" stroke-linecap="butt"/>
<line x1="929" y1="663.2" x2="929" y2="672" stroke="#000" stroke-width="2.6" stroke-linecap="butt"/>
<line x1="972.4" y1="663.2" x2="972.4" y2="672" stroke="#000" stroke-width="2.6" stroke-linecap="butt"/>
<line x1="1015.8" y1="663.2" x2="1015.8" y2="672" stroke="#000" stroke-width="2.6" stroke-linecap="butt"/>
<path d="M830.04,565.3L830.04,560M830.04,565.3L835.08,563.67M830.04,565.3L833.16,569.59M830.04,565.3L826.93,569.59M830.04,565.3L825,563.67M842,565.3L842,560M842,565.3L847.04,563.67M842,565.3L845.12,569.59M842,565.3L838.88,569.59M842,565.3L836.96,563.67M853.96,565.3L853.96,560M853.96,565.3L859,563.67M853.96,565.3L857.07,569.59M853.96,565.3L850.84,569.59M853.96,565.3L848.92,563.67" stroke="#000" stroke-width="2.15" fill="none"/>
<path d="M873.64,540.1L873.64,534.8M873.64,540.1L878.68,538.47M873.64,540.1L876.76,544.39M873.64,540.1L870.53,544.39M873.64,540.1L868.6,538.47M885.6,540.1L885.6,534.8M885.6,540.1L890.64,538.47M885.6,540.1L888.72,544.39M885.6,540.1L882.48,544.39M885.6,540.1L880.56,538.47M897.56,540.1L897.56,534.8M897.56,540.1L902.6,538.47M897.56,540.1L900.67,544.39M897.56,540.1L894.44,544.39M897.56,540.1L892.52,538.47" stroke="#000" stroke-width="2.15" fill="none"/>
<path d="M917.34,482.7L917.34,477.4M917.34,482.7L922.38,481.07M917.34,482.7L920.46,486.99M917.34,482.7L914.23,486.99M917.34,482.7L912.3,481.07M929.3,482.7L929.3,477.4M929.3,482.7L934.34,481.07M929.3,482.7L932.42,486.99M929.3,482.7L926.18,486.99M929.3,482.7L924.26,481.07M941.26,482.7L941.26,477.4M941.26,482.7L946.3,481.07M941.26,482.7L944.37,486.99M941.26,482.7L938.14,486.99M941.26,482.7L936.22,481.07" stroke="#000" stroke-width="2.15" fill="none"/>
<path d="M966.82,592.3L966.82,587M966.82,592.3L971.86,590.67M966.82,592.3L969.94,596.59M966.82,592.3L963.71,596.59M966.82,592.3L961.78,590.67M978.78,592.3L978.78,587M978.78,592.3L983.82,590.67M978.78,592.3L981.89,596.59M978.78,592.3L975.66,596.59M978.78,592.3L973.74,590.67" stroke="#000" stroke-width="2.15" fill="none"/>
<path d="M1004.24,485.8L1004.24,480.5M1004.24,485.8L1009.28,484.17M1004.24,485.8L1007.36,490.09M1004.24,485.8L1001.13,490.09M1004.24,485.8L999.2,484.17M1016.2,485.8L1016.2,480.5M1016.2,485.8L1021.24,484.17M1016.2,485.8L1019.32,490.09M1016.2,485.8L1013.08,490.09M1016.2,485.8L1011.16,484.17M1028.16,485.8L1028.16,480.5M1028.16,485.8L1033.2,484.17M1028.16,485.8L1031.27,490.09M1028.16,485.8L1025.04,490.09M1028.16,485.8L1023.12,484.17" stroke="#000" stroke-width="2.15" fill="none"/>
<text transform="translate(713.9,560.7) rotate(-90)" font-size="19.3" stroke="#000" stroke-width="0.55" text-anchor="middle" fill="#000">NCR1 mRNA levels</text>
<text x="772.3" y="691.4" font-size="19.6" stroke="#000" stroke-width="1" text-anchor="end">SBT (µg/mL)</text>
<text x="796" y="691.6" font-size="16" font-weight="bold" text-anchor="middle" fill="#000">-</text>
<text x="842" y="691.6" font-size="16.5" stroke="#000" stroke-width="0.85" text-anchor="middle" fill="#000">1</text>
<text x="887" y="691.6" font-size="16.5" stroke="#000" stroke-width="0.85" text-anchor="middle" fill="#000">10</text>
<text x="934" y="691.6" font-size="16.5" stroke="#000" stroke-width="0.85" text-anchor="middle" fill="#000">100</text>
<text x="976.3" y="691.6" font-size="17" text-anchor="middle" fill="#000">-</text>
<text x="1019.2" y="691.6" font-size="17" text-anchor="middle" fill="#000">-</text>
<text x="772.3" y="715.4" font-size="19.6" stroke="#000" stroke-width="1" text-anchor="end">Stig<tspan dx="4.4"> (µg/mL)</tspan></text>
<text x="796" y="715.8" font-size="16" font-weight="bold" text-anchor="middle" fill="#000">-</text>
<text x="842" y="715.8" font-size="17" text-anchor="middle" fill="#000">-</text>
<text x="887" y="715.8" font-size="17" text-anchor="middle" fill="#000">-</text>
<text x="934" y="715.8" font-size="17" text-anchor="middle" fill="#000">-</text>
<text x="976.3" y="715.8" font-size="16.5" stroke="#000" stroke-width="0.85" text-anchor="middle" fill="#000">1</text>
<text x="1019.2" y="715.8" font-size="17" text-anchor="middle" fill="#000">-</text>
<text x="772.3" y="738.4" font-size="19.6" stroke="#000" stroke-width="1" text-anchor="end">LPS (ng/mL)</text>
<text x="796" y="739.2" font-size="16" font-weight="bold" text-anchor="middle" fill="#000">-</text>
<text x="842" y="739.2" font-size="17" text-anchor="middle" fill="#000">-</text>
<text x="887" y="739.2" font-size="17" text-anchor="middle" fill="#000">-</text>
<text x="934" y="739.2" font-size="17" text-anchor="middle" fill="#000">-</text>
<text x="976.3" y="739.2" font-size="17" text-anchor="middle" fill="#000">-</text>
<text x="1019.2" y="739.2" font-size="16.5" stroke="#000" stroke-width="0.85" text-anchor="middle" fill="#000">10</text>
<line x1="145.6" y1="813.1" x2="145.6" y2="1015.6" stroke="#000" stroke-width="2.6" stroke-linecap="butt"/>
<line x1="137.5" y1="814.4" x2="145.6" y2="814.4" stroke="#000" stroke-width="2.1" stroke-linecap="butt"/>
<text x="134" y="820.89" font-size="18.8" stroke="#000" stroke-width="0.9" text-anchor="end" fill="#000">2.5</text>
<line x1="137.5" y1="854.6" x2="145.6" y2="854.6" stroke="#000" stroke-width="2.1" stroke-linecap="butt"/>
<text x="134" y="861.09" font-size="18.8" stroke="#000" stroke-width="0.9" text-anchor="end" fill="#000">2.0</text>
<line x1="137.5" y1="894.9" x2="145.6" y2="894.9" stroke="#000" stroke-width="2.1" stroke-linecap="butt"/>
<text x="134" y="901.39" font-size="18.8" stroke="#000" stroke-width="0.9" text-anchor="end" fill="#000">1.5</text>
<line x1="137.5" y1="935.1" x2="145.6" y2="935.1" stroke="#000" stroke-width="2.1" stroke-linecap="butt"/>
<text x="134" y="941.59" font-size="18.8" stroke="#000" stroke-width="0.9" text-anchor="end" fill="#000">1.0</text>
<line x1="137.5" y1="975.3" x2="145.6" y2="975.3" stroke="#000" stroke-width="2.1" stroke-linecap="butt"/>
<text x="134" y="981.79" font-size="18.8" stroke="#000" stroke-width="0.9" text-anchor="end" fill="#000">0.5</text>
<line x1="137.5" y1="1015.6" x2="145.6" y2="1015.6" stroke="#000" stroke-width="2.1" stroke-linecap="butt"/>
<text x="134" y="1022.09" font-size="18.8" stroke="#000" stroke-width="0.9" text-anchor="end" fill="#000">0.0</text>
<line x1="175.1" y1="952.9" x2="175.1" y2="942.3" stroke="#000" stroke-width="2.75" stroke-linecap="butt"/>
<line x1="168.3" y1="942.3" x2="181.9" y2="942.3" stroke="#000" stroke-width="2.75" stroke-linecap="butt"/>
<rect x="161.9" y="953.1" width="26.4" height="62.5" fill="#ffffff" stroke="#000" stroke-width="2.4"/>
<line x1="218.6" y1="927.4" x2="218.6" y2="921" stroke="#000" stroke-width="2.75" stroke-linecap="butt"/>
<line x1="211.8" y1="921" x2="225.4" y2="921" stroke="#000" stroke-width="2.75" stroke-linecap="butt"/>
<rect x="205.4" y="927.6" width="26.4" height="88" fill="#d4d4d4" stroke="#000" stroke-width="2.4"/>
<line x1="262.3" y1="890.8" x2="262.3" y2="886.8" stroke="#000" stroke-width="2.75" stroke-linecap="butt"/>
<line x1="255.5" y1="886.8" x2="269.1" y2="886.8" stroke="#000" stroke-width="2.75" stroke-linecap="butt"/>
<rect x="249.1" y="891" width="26.4" height="124.6" fill="#a3a2a7" stroke="#000" stroke-width="2.4"/>
<line x1="306.2" y1="839.8" x2="306.2" y2="834.6" stroke="#000" stroke-width="2.75" stroke-linecap="butt"/>
<line x1="299.4" y1="834.6" x2="313" y2="834.6" stroke="#000" stroke-width="2.75" stroke-linecap="butt"/>
<rect x="293" y="840" width="26.4" height="175.6" fill="#000000" stroke="#000" stroke-width="2.4"/>
<line x1="349.9" y1="921.4" x2="349.9" y2="905.5" stroke="#000" stroke-width="2.75" stroke-linecap="butt"/>
<line x1="343.1" y1="905.5" x2="356.7" y2="905.5" stroke="#000" stroke-width="2.75" stroke-linecap="butt"/>
<rect x="336.7" y="921.6" width="26.4" height="94" fill="#636363" stroke="#000" stroke-width="2.4"/>
<line x1="393.9" y1="864.8" x2="393.9" y2="861.2" stroke="#000" stroke-width="2.75" stroke-linecap="butt"/>
<line x1="387.1" y1="861.2" x2="400.7" y2="861.2" stroke="#000" stroke-width="2.75" stroke-linecap="butt"/>
<rect x="380.7" y="865" width="26.4" height="150.6" fill="#2c2c2c" stroke="#000" stroke-width="2.4"/>
<line x1="136.6" y1="1015.6" x2="424.2" y2="1015.6" stroke="#000" stroke-width="2.6" stroke-linecap="butt"/>
<line x1="175.1" y1="1015.6" x2="175.1" y2="1024.7" stroke="#000" stroke-width="2.6" stroke-linecap="butt"/>
<line x1="218.4" y1="1015.6" x2="218.4" y2="1024.7" stroke="#000" stroke-width="2.6" stroke-linecap="butt"/>
<line x1="262" y1="1015.6" x2="262" y2="1024.7" stroke="#000" stroke-width="2.6" stroke-linecap="butt"/>
<line x1="305.9" y1="1015.6" x2="305.9" y2="1024.7" stroke="#000" stroke-width="2.6" stroke-linecap="butt"/>
<line x1="349.7" y1="1015.6" x2="349.7" y2="1024.7" stroke="#000" stroke-width="2.6" stroke-linecap="butt"/>
<line x1="393.3" y1="1015.6" x2="393.3" y2="1024.7" stroke="#000" stroke-width="2.6" stroke-linecap="butt"/>
<path d="M256.32,876.3L256.32,871M256.32,876.3L261.36,874.67M256.32,876.3L259.44,880.59M256.32,876.3L253.21,880.59M256.32,876.3L251.28,874.67M268.28,876.3L268.28,871M268.28,876.3L273.32,874.67M268.28,876.3L271.39,880.59M268.28,876.3L265.16,880.59M268.28,876.3L263.24,874.67" stroke="#000" stroke-width="2.15" fill="none"/>
<path d="M294.24,819.7L294.24,814.4M294.24,819.7L299.28,818.07M294.24,819.7L297.36,823.99M294.24,819.7L291.13,823.99M294.24,819.7L289.2,818.07M306.2,819.7L306.2,814.4M306.2,819.7L311.24,818.07M306.2,819.7L309.32,823.99M306.2,819.7L303.08,823.99M306.2,819.7L301.16,818.07M318.16,819.7L318.16,814.4M318.16,819.7L323.2,818.07M318.16,819.7L321.27,823.99M318.16,819.7L315.04,823.99M318.16,819.7L313.12,818.07" stroke="#000" stroke-width="2.15" fill="none"/>
<path d="M381.94,851.5L381.94,846.2M381.94,851.5L386.98,849.87M381.94,851.5L385.06,855.79M381.94,851.5L378.83,855.79M381.94,851.5L376.9,849.87M393.9,851.5L393.9,846.2M393.9,851.5L398.94,849.87M393.9,851.5L397.02,855.79M393.9,851.5L390.78,855.79M393.9,851.5L388.86,849.87M405.86,851.5L405.86,846.2M405.86,851.5L410.9,849.87M405.86,851.5L408.97,855.79M405.86,851.5L402.74,855.79M405.86,851.5L400.82,849.87" stroke="#000" stroke-width="2.15" fill="none"/>
<text transform="translate(73.9,912) rotate(-90)" font-size="19.7" stroke="#000" stroke-width="0.55" text-anchor="middle" fill="#000">NKG2D mRNA levels</text>
<text x="149.9" y="1042.6" font-size="19.6" stroke="#000" stroke-width="1" text-anchor="end">SBT (µg/mL)</text>
<text x="172.5" y="1043.6" font-size="16" font-weight="bold" text-anchor="middle" fill="#000">-</text>
<text x="219" y="1043.6" font-size="16.5" stroke="#000" stroke-width="0.85" text-anchor="middle" fill="#000">1</text>
<text x="264.5" y="1043.6" font-size="16.5" stroke="#000" stroke-width="0.85" text-anchor="middle" fill="#000">10</text>
<text x="311" y="1043.6" font-size="16.5" stroke="#000" stroke-width="0.85" text-anchor="middle" fill="#000">100</text>
<text x="353.8" y="1043.6" font-size="17" text-anchor="middle" fill="#000">-</text>
<text x="397.6" y="1043.6" font-size="17" text-anchor="middle" fill="#000">-</text>
<text x="149.9" y="1066.6" font-size="19.6" stroke="#000" stroke-width="1" text-anchor="end">Stig<tspan dx="4.4"> (µg/mL)</tspan></text>
<text x="172.5" y="1068" font-size="16" font-weight="bold" text-anchor="middle" fill="#000">-</text>
<text x="219" y="1068" font-size="17" text-anchor="middle" fill="#000">-</text>
<text x="264.5" y="1068" font-size="17" text-anchor="middle" fill="#000">-</text>
<text x="311" y="1068" font-size="17" text-anchor="middle" fill="#000">-</text>
<text x="353.8" y="1068" font-size="16.5" stroke="#000" stroke-width="0.85" text-anchor="middle" fill="#000">1</text>
<text x="397.6" y="1068" font-size="17" text-anchor="middle" fill="#000">-</text>
<text x="149.9" y="1089.8" font-size="19.6" stroke="#000" stroke-width="1" text-anchor="end">LPS (ng/mL)</text>
<text x="172.5" y="1091" font-size="16" font-weight="bold" text-anchor="middle" fill="#000">-</text>
<text x="219" y="1091" font-size="17" text-anchor="middle" fill="#000">-</text>
<text x="264.5" y="1091" font-size="17" text-anchor="middle" fill="#000">-</text>
<text x="311" y="1091" font-size="17" text-anchor="middle" fill="#000">-</text>
<text x="353.8" y="1091" font-size="17" text-anchor="middle" fill="#000">-</text>
<text x="397.6" y="1091" font-size="16.5" stroke="#000" stroke-width="0.85" text-anchor="middle" fill="#000">10</text>
<line x1="553.6" y1="814.9" x2="553.6" y2="1015.8" stroke="#000" stroke-width="2.6" stroke-linecap="butt"/>
<line x1="544.7" y1="816.2" x2="553.6" y2="816.2" stroke="#000" stroke-width="2.1" stroke-linecap="butt"/>
<text x="542.2" y="822.69" font-size="18.8" stroke="#000" stroke-width="0.9" text-anchor="end" fill="#000">6</text>
<line x1="544.7" y1="882.7" x2="553.6" y2="882.7" stroke="#000" stroke-width="2.1" stroke-linecap="butt"/>
<text x="542.2" y="889.19" font-size="18.8" stroke="#000" stroke-width="0.9" text-anchor="end" fill="#000">4</text>
<line x1="544.7" y1="949.2" x2="553.6" y2="949.2" stroke="#000" stroke-width="2.1" stroke-linecap="butt"/>
<text x="542.2" y="955.69" font-size="18.8" stroke="#000" stroke-width="0.9" text-anchor="end" fill="#000">2</text>
<line x1="544.7" y1="1015.8" x2="553.6" y2="1015.8" stroke="#000" stroke-width="2.1" stroke-linecap="butt"/>
<text x="542.2" y="1022.29" font-size="18.8" stroke="#000" stroke-width="0.9" text-anchor="end" fill="#000">0</text>
<line x1="583.4" y1="983.8" x2="583.4" y2="982.4" stroke="#000" stroke-width="2.75" stroke-linecap="butt"/>
<line x1="576.6" y1="982.4" x2="590.2" y2="982.4" stroke="#000" stroke-width="2.75" stroke-linecap="butt"/>
<rect x="570.3" y="984" width="26.2" height="31.8" fill="#ffffff" stroke="#000" stroke-width="2.4"/>
<line x1="626.65" y1="926.3" x2="626.65" y2="921.4" stroke="#000" stroke-width="2.75" stroke-linecap="butt"/>
<line x1="619.85" y1="921.4" x2="633.45" y2="921.4" stroke="#000" stroke-width="2.75" stroke-linecap="butt"/>
<rect x="613.6" y="926.5" width="26.1" height="89.3" fill="#d4d4d4" stroke="#000" stroke-width="2.4"/>
<line x1="670.05" y1="912.3" x2="670.05" y2="904" stroke="#000" stroke-width="2.75" stroke-linecap="butt"/>
<line x1="663.25" y1="904" x2="676.85" y2="904" stroke="#000" stroke-width="2.75" stroke-linecap="butt"/>
<rect x="657.2" y="912.5" width="25.7" height="103.3" fill="#a3a2a7" stroke="#000" stroke-width="2.4"/>
<line x1="713.6" y1="862.7" x2="713.6" y2="850" stroke="#000" stroke-width="2.75" stroke-linecap="butt"/>
<line x1="706.8" y1="850" x2="720.4" y2="850" stroke="#000" stroke-width="2.75" stroke-linecap="butt"/>
<rect x="700.5" y="862.9" width="26.2" height="152.9" fill="#000000" stroke="#000" stroke-width="2.4"/>
<line x1="757" y1="930.3" x2="757" y2="927" stroke="#000" stroke-width="2.75" stroke-linecap="butt"/>
<line x1="750.2" y1="927" x2="763.8" y2="927" stroke="#000" stroke-width="2.75" stroke-linecap="butt"/>
<rect x="743.9" y="930.5" width="26.2" height="85.3" fill="#636363" stroke="#000" stroke-width="2.4"/>
<line x1="800.5" y1="858.3" x2="800.5" y2="838.4" stroke="#000" stroke-width="2.75" stroke-linecap="butt"/>
<line x1="793.7" y1="838.4" x2="807.3" y2="838.4" stroke="#000" stroke-width="2.75" stroke-linecap="butt"/>
<rect x="787.2" y="858.5" width="26.6" height="157.3" fill="#2c2c2c" stroke="#000" stroke-width="2.4"/>
<line x1="545" y1="1015.8" x2="830" y2="1015.8" stroke="#000" stroke-width="2.6" stroke-linecap="butt"/>
<line x1="583" y1="1015.8" x2="583" y2="1024.7" stroke="#000" stroke-width="2.6" stroke-linecap="butt"/>
<line x1="626.4" y1="1015.8" x2="626.4" y2="1024.7" stroke="#000" stroke-width="2.6" stroke-linecap="butt"/>
<line x1="669.8" y1="1015.8" x2="669.8" y2="1024.7" stroke="#000" stroke-width="2.6" stroke-linecap="butt"/>
<line x1="713.4" y1="1015.8" x2="713.4" y2="1024.7" stroke="#000" stroke-width="2.6" stroke-linecap="butt"/>
<line x1="756.8" y1="1015.8" x2="756.8" y2="1024.7" stroke="#000" stroke-width="2.6" stroke-linecap="butt"/>
<line x1="800" y1="1015.8" x2="800" y2="1024.7" stroke="#000" stroke-width="2.6" stroke-linecap="butt"/>
<path d="M626.65,910L626.65,904.7M626.65,910L631.69,908.37M626.65,910L629.77,914.29M626.65,910L623.53,914.29M626.65,910L621.61,908.37" stroke="#000" stroke-width="2.15" fill="none"/>
<path d="M664.07,889.5L664.07,884.2M664.07,889.5L669.11,887.87M664.07,889.5L667.19,893.79M664.07,889.5L660.96,893.79M664.07,889.5L659.03,887.87M676.03,889.5L676.03,884.2M676.03,889.5L681.07,887.87M676.03,889.5L679.14,893.79M676.03,889.5L672.91,893.79M676.03,889.5L670.99,887.87" stroke="#000" stroke-width="2.15" fill="none"/>
<path d="M701.64,839.3L701.64,834M701.64,839.3L706.68,837.67M701.64,839.3L704.76,843.59M701.64,839.3L698.53,843.59M701.64,839.3L696.6,837.67M713.6,839.3L713.6,834M713.6,839.3L718.64,837.67M713.6,839.3L716.72,843.59M713.6,839.3L710.48,843.59M713.6,839.3L708.56,837.67M725.56,839.3L725.56,834M725.56,839.3L730.6,837.67M725.56,839.3L728.67,843.59M725.56,839.3L722.44,843.59M725.56,839.3L720.52,837.67" stroke="#000" stroke-width="2.15" fill="none"/>
<path d="M757,914.3L757,909M757,914.3L762.04,912.67M757,914.3L760.12,918.59M757,914.3L753.88,918.59M757,914.3L751.96,912.67" stroke="#000" stroke-width="2.15" fill="none"/>
<path d="M788.54,824.7L788.54,819.4M788.54,824.7L793.58,823.07M788.54,824.7L791.66,828.99M788.54,824.7L785.43,828.99M788.54,824.7L783.5,823.07M800.5,824.7L800.5,819.4M800.5,824.7L805.54,823.07M800.5,824.7L803.62,828.99M800.5,824.7L797.38,828.99M800.5,824.7L795.46,823.07M812.46,824.7L812.46,819.4M812.46,824.7L817.5,823.07M812.46,824.7L815.57,828.99M812.46,824.7L809.34,828.99M812.46,824.7L807.42,823.07" stroke="#000" stroke-width="2.15" fill="none"/>
<text transform="translate(497.6,912.8) rotate(-90)" font-size="19.7" stroke="#000" stroke-width="0.55" text-anchor="middle" fill="#000">KLRD1 mRNA levels</text>
<text x="555.9" y="1042.6" font-size="19.6" stroke="#000" stroke-width="1" text-anchor="end">SBT (µg/mL)</text>
<text x="580.5" y="1043.6" font-size="16" font-weight="bold" text-anchor="middle" fill="#000">-</text>
<text x="626.3" y="1043.6" font-size="16.5" stroke="#000" stroke-width="0.85" text-anchor="middle" fill="#000">1</text>
<text x="671.3" y="1043.6" font-size="16.5" stroke="#000" stroke-width="0.85" text-anchor="middle" fill="#000">10</text>
<text x="718.5" y="1043.6" font-size="16.5" stroke="#000" stroke-width="0.85" text-anchor="middle" fill="#000">100</text>
<text x="760.3" y="1043.6" font-size="17" text-anchor="middle" fill="#000">-</text>
<text x="804.2" y="1043.6" font-size="17" text-anchor="middle" fill="#000">-</text>
<text x="555.9" y="1067" font-size="19.6" stroke="#000" stroke-width="1" text-anchor="end">Stig<tspan dx="4.4"> (µg/mL)</tspan></text>
<text x="580.5" y="1068" font-size="16" font-weight="bold" text-anchor="middle" fill="#000">-</text>
<text x="626.3" y="1068" font-size="17" text-anchor="middle" fill="#000">-</text>
<text x="671.3" y="1068" font-size="17" text-anchor="middle" fill="#000">-</text>
<text x="718.5" y="1068" font-size="17" text-anchor="middle" fill="#000">-</text>
<text x="760.3" y="1068" font-size="16.5" stroke="#000" stroke-width="0.85" text-anchor="middle" fill="#000">1</text>
<text x="804.2" y="1068" font-size="17" text-anchor="middle" fill="#000">-</text>
<text x="555.9" y="1090" font-size="19.6" stroke="#000" stroke-width="1" text-anchor="end">LPS (ng/mL)</text>
<text x="580.5" y="1091" font-size="16" font-weight="bold" text-anchor="middle" fill="#000">-</text>
<text x="626.3" y="1091" font-size="17" text-anchor="middle" fill="#000">-</text>
<text x="671.3" y="1091" font-size="17" text-anchor="middle" fill="#000">-</text>
<text x="718.5" y="1091" font-size="17" text-anchor="middle" fill="#000">-</text>
<text x="760.3" y="1091" font-size="17" text-anchor="middle" fill="#000">-</text>
<text x="804.2" y="1091" font-size="16.5" stroke="#000" stroke-width="0.85" text-anchor="middle" fill="#000">10</text>
<line x1="960.9" y1="815.5" x2="960.9" y2="1016.8" stroke="#000" stroke-width="2.6" stroke-linecap="butt"/>
<line x1="952.5" y1="816.8" x2="960.9" y2="816.8" stroke="#000" stroke-width="2.1" stroke-linecap="butt"/>
<text x="950" y="823.29" font-size="18.8" stroke="#000" stroke-width="0.9" text-anchor="end" fill="#000">5</text>
<line x1="952.5" y1="856.8" x2="960.9" y2="856.8" stroke="#000" stroke-width="2.1" stroke-linecap="butt"/>
<text x="950" y="863.29" font-size="18.8" stroke="#000" stroke-width="0.9" text-anchor="end" fill="#000">4</text>
<line x1="952.5" y1="896.8" x2="960.9" y2="896.8" stroke="#000" stroke-width="2.1" stroke-linecap="butt"/>
<text x="950" y="903.29" font-size="18.8" stroke="#000" stroke-width="0.9" text-anchor="end" fill="#000">3</text>
<line x1="952.5" y1="936.8" x2="960.9" y2="936.8" stroke="#000" stroke-width="2.1" stroke-linecap="butt"/>
<text x="950" y="943.29" font-size="18.8" stroke="#000" stroke-width="0.9" text-anchor="end" fill="#000">2</text>
<line x1="952.5" y1="976.8" x2="960.9" y2="976.8" stroke="#000" stroke-width="2.1" stroke-linecap="butt"/>
<text x="950" y="983.29" font-size="18.8" stroke="#000" stroke-width="0.9" text-anchor="end" fill="#000">1</text>
<line x1="952.5" y1="1016.8" x2="960.9" y2="1016.8" stroke="#000" stroke-width="2.1" stroke-linecap="butt"/>
<text x="950" y="1023.29" font-size="18.8" stroke="#000" stroke-width="0.9" text-anchor="end" fill="#000">0</text>
<line x1="990.4" y1="979.8" x2="990.4" y2="977.6" stroke="#000" stroke-width="2.75" stroke-linecap="butt"/>
<line x1="983.6" y1="977.6" x2="997.2" y2="977.6" stroke="#000" stroke-width="2.75" stroke-linecap="butt"/>
<rect x="977.3" y="980" width="26.2" height="36.8" fill="#ffffff" stroke="#000" stroke-width="2.4"/>
<line x1="1033.75" y1="959.9" x2="1033.75" y2="955.5" stroke="#000" stroke-width="2.75" stroke-linecap="butt"/>
<line x1="1026.95" y1="955.5" x2="1040.55" y2="955.5" stroke="#000" stroke-width="2.75" stroke-linecap="butt"/>
<rect x="1020.7" y="960.1" width="26.1" height="56.7" fill="#d4d4d4" stroke="#000" stroke-width="2.4"/>
<line x1="1077.1" y1="916.4" x2="1077.1" y2="904.3" stroke="#000" stroke-width="2.75" stroke-linecap="butt"/>
<line x1="1070.3" y1="904.3" x2="1083.9" y2="904.3" stroke="#000" stroke-width="2.75" stroke-linecap="butt"/>
<rect x="1064.4" y="916.6" width="25.4" height="100.2" fill="#a3a2a7" stroke="#000" stroke-width="2.4"/>
<line x1="1120.65" y1="866" x2="1120.65" y2="858.4" stroke="#000" stroke-width="2.75" stroke-linecap="butt"/>
<line x1="1113.85" y1="858.4" x2="1127.45" y2="858.4" stroke="#000" stroke-width="2.75" stroke-linecap="butt"/>
<rect x="1107.6" y="866.2" width="26.1" height="150.6" fill="#000000" stroke="#000" stroke-width="2.4"/>
<line x1="1163.9" y1="953.8" x2="1163.9" y2="943.4" stroke="#000" stroke-width="2.75" stroke-linecap="butt"/>
<line x1="1157.1" y1="943.4" x2="1170.7" y2="943.4" stroke="#000" stroke-width="2.75" stroke-linecap="butt"/>
<rect x="1150.9" y="954" width="26" height="62.8" fill="#636363" stroke="#000" stroke-width="2.4"/>
<line x1="1207.65" y1="857.4" x2="1207.65" y2="855.5" stroke="#000" stroke-width="2.75" stroke-linecap="butt"/>
<line x1="1200.85" y1="855.5" x2="1214.45" y2="855.5" stroke="#000" stroke-width="2.75" stroke-linecap="butt"/>
<rect x="1194.5" y="857.6" width="26.3" height="159.2" fill="#2c2c2c" stroke="#000" stroke-width="2.4"/>
<line x1="952" y1="1016.8" x2="1237" y2="1016.8" stroke="#000" stroke-width="2.6" stroke-linecap="butt"/>
<line x1="989.8" y1="1016.8" x2="989.8" y2="1026" stroke="#000" stroke-width="2.6" stroke-linecap="butt"/>
<line x1="1033.4" y1="1016.8" x2="1033.4" y2="1026" stroke="#000" stroke-width="2.6" stroke-linecap="butt"/>
<line x1="1077" y1="1016.8" x2="1077" y2="1026" stroke="#000" stroke-width="2.6" stroke-linecap="butt"/>
<line x1="1120.8" y1="1016.8" x2="1120.8" y2="1026" stroke="#000" stroke-width="2.6" stroke-linecap="butt"/>
<line x1="1164" y1="1016.8" x2="1164" y2="1026" stroke="#000" stroke-width="2.6" stroke-linecap="butt"/>
<line x1="1207.6" y1="1016.8" x2="1207.6" y2="1026" stroke="#000" stroke-width="2.6" stroke-linecap="butt"/>
<path d="M1065.14,891L1065.14,885.7M1065.14,891L1070.18,889.37M1065.14,891L1068.26,895.29M1065.14,891L1062.03,895.29M1065.14,891L1060.1,889.37M1077.1,891L1077.1,885.7M1077.1,891L1082.14,889.37M1077.1,891L1080.22,895.29M1077.1,891L1073.98,895.29M1077.1,891L1072.06,889.37M1089.06,891L1089.06,885.7M1089.06,891L1094.1,889.37M1089.06,891L1092.17,895.29M1089.06,891L1085.94,895.29M1089.06,891L1084.02,889.37" stroke="#000" stroke-width="2.15" fill="none"/>
<path d="M1108.69,844.5L1108.69,839.2M1108.69,844.5L1113.73,842.87M1108.69,844.5L1111.81,848.79M1108.69,844.5L1105.58,848.79M1108.69,844.5L1103.65,842.87M1120.65,844.5L1120.65,839.2M1120.65,844.5L1125.69,842.87M1120.65,844.5L1123.77,848.79M1120.65,844.5L1117.53,848.79M1120.65,844.5L1115.61,842.87M1132.61,844.5L1132.61,839.2M1132.61,844.5L1137.65,842.87M1132.61,844.5L1135.72,848.79M1132.61,844.5L1129.49,848.79M1132.61,844.5L1127.57,842.87" stroke="#000" stroke-width="2.15" fill="none"/>
<path d="M1195.69,840L1195.69,834.7M1195.69,840L1200.73,838.37M1195.69,840L1198.81,844.29M1195.69,840L1192.58,844.29M1195.69,840L1190.65,838.37M1207.65,840L1207.65,834.7M1207.65,840L1212.69,838.37M1207.65,840L1210.77,844.29M1207.65,840L1204.53,844.29M1207.65,840L1202.61,838.37M1219.61,840L1219.61,834.7M1219.61,840L1224.65,838.37M1219.61,840L1222.72,844.29M1219.61,840L1216.49,844.29M1219.61,840L1214.57,838.37" stroke="#000" stroke-width="2.15" fill="none"/>
<text transform="translate(904.8,914.3) rotate(-90)" font-size="19.7" stroke="#000" stroke-width="0.55" text-anchor="middle" fill="#000">CD49b mRNA levels</text>
<text x="962.3" y="1043" font-size="19.6" stroke="#000" stroke-width="1" text-anchor="end">SBT (µg/mL)</text>
<text x="987.3" y="1044.2" font-size="16" font-weight="bold" text-anchor="middle" fill="#000">-</text>
<text x="1033.6" y="1044.2" font-size="16.5" stroke="#000" stroke-width="0.85" text-anchor="middle" fill="#000">1</text>
<text x="1078.6" y="1044.2" font-size="16.5" stroke="#000" stroke-width="0.85" text-anchor="middle" fill="#000">10</text>
<text x="1125.4" y="1044.2" font-size="16.5" stroke="#000" stroke-width="0.85" text-anchor="middle" fill="#000">100</text>
<text x="1167.8" y="1044.2" font-size="17" text-anchor="middle" fill="#000">-</text>
<text x="1211.4" y="1044.2" font-size="17" text-anchor="middle" fill="#000">-</text>
<text x="962.3" y="1067" font-size="19.6" stroke="#000" stroke-width="1" text-anchor="end">Stig<tspan dx="4.4"> (µg/mL)</tspan></text>
<text x="987.3" y="1068.5" font-size="16" font-weight="bold" text-anchor="middle" fill="#000">-</text>
<text x="1033.6" y="1068.5" font-size="17" text-anchor="middle" fill="#000">-</text>
<text x="1078.6" y="1068.5" font-size="17" text-anchor="middle" fill="#000">-</text>
<text x="1125.4" y="1068.5" font-size="17" text-anchor="middle" fill="#000">-</text>
<text x="1167.8" y="1068.5" font-size="16.5" stroke="#000" stroke-width="0.85" text-anchor="middle" fill="#000">1</text>
<text x="1211.4" y="1068.5" font-size="17" text-anchor="middle" fill="#000">-</text>
<text x="962.3" y="1090.2" font-size="19.6" stroke="#000" stroke-width="1" text-anchor="end">LPS (ng/mL)</text>
<text x="987.3" y="1091.5" font-size="16" font-weight="bold" text-anchor="middle" fill="#000">-</text>
<text x="1033.6" y="1091.5" font-size="17" text-anchor="middle" fill="#000">-</text>
<text x="1078.6" y="1091.5" font-size="17" text-anchor="middle" fill="#000">-</text>
<text x="1125.4" y="1091.5" font-size="17" text-anchor="middle" fill="#000">-</text>
<text x="1167.8" y="1091.5" font-size="17" text-anchor="middle" fill="#000">-</text>
<text x="1211.4" y="1091.5" font-size="16.5" stroke="#000" stroke-width="0.85" text-anchor="middle" fill="#000">10</text>
<rect x="0" y="550" width="1245" height="1.4" fill="#fff" opacity="0.13"/>
</svg></body></html>
